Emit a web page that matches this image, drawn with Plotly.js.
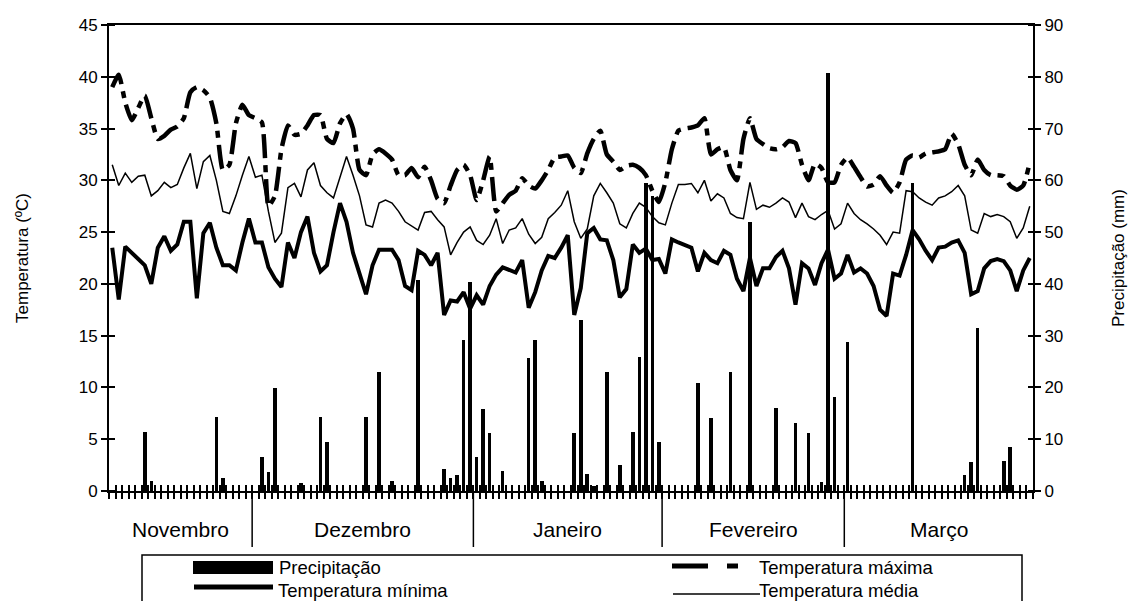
<!DOCTYPE html>
<html>
<head>
<meta charset="utf-8">
<script src="https://cdn.plot.ly/plotly-3.0.1.min.js"></script>
<style>
html,body{margin:0;padding:0;background:#fff;}
#chart{width:1131px;height:601px;}
</style>
</head>
<body>
<div id="chart"></div>
<script>
// ---- DATA ----
const monthLabels = ["Novembro","Dezembro","Janeiro","Fevereiro","Março"];
const monthDays = [22, 34, 29, 28, 29];

const tempMax = [
39.0,40.2,37.5,35.8,37.0,38.2,36.0,34.0,34.3,34.9,
35.2,36.0,38.5,39.0,38.7,38.0,35.5,31.0,31.5,35.5,
37.3,36.3,36.0,35.6,27.5,28.5,33.0,35.3,34.4,34.5,
35.3,36.3,36.3,34.0,33.6,35.5,36.4,35.0,31.0,30.5,
32.5,33.0,32.6,32.0,30.5,30.5,31.2,30.3,31.3,30.0,
28.2,27.8,29.5,31.0,31.5,30.5,28.1,30.0,32.3,27.0,
27.8,28.6,29.0,30.2,29.5,29.2,30.0,31.0,32.2,32.3,
32.4,31.2,30.7,32.6,34.0,34.8,32.5,31.8,31.0,31.4,
31.5,31.2,30.5,29.0,27.9,29.8,33.0,34.8,35.0,35.1,
35.3,36.0,32.5,33.0,33.2,31.0,30.0,34.0,36.0,34.0,
33.5,33.1,33.0,33.2,33.8,33.6,31.5,30.0,31.6,31.2,
29.8,29.8,31.5,32.2,31.3,30.3,29.4,29.6,30.4,29.5,
28.8,29.8,32.0,32.4,32.2,32.6,32.7,32.8,33.0,34.5,
33.5,31.5,30.5,32.0,31.0,30.5,30.5,30.4,29.5,29.1,
29.5,31.7];

const tempMin = [
23.5,18.5,23.6,23.0,22.5,21.8,20.0,23.5,24.6,23.2,
23.8,26.0,26.0,18.6,24.9,25.9,23.5,21.8,21.8,21.3,
24.0,26.3,24.0,24.0,21.6,20.5,19.7,24.0,22.5,25.0,
26.5,23.0,21.2,21.8,25.0,27.8,26.0,23.0,21.0,19.0,
21.8,23.3,23.3,23.3,22.3,19.8,19.4,23.2,22.8,21.8,
23.0,17.0,18.4,18.3,19.2,17.6,18.9,18.0,19.8,20.9,
21.6,21.4,21.1,22.3,17.7,19.2,21.3,22.7,22.5,23.5,
24.7,17.0,19.6,24.9,25.4,24.3,24.2,22.3,18.7,19.5,
23.8,23.0,23.4,22.3,22.4,21.0,24.3,24.0,23.8,23.5,
21.2,23.0,22.3,22.0,23.2,22.8,20.5,19.3,22.5,19.8,
21.5,21.5,22.6,23.2,21.5,18.0,22.0,21.5,19.9,22.0,
23.3,20.5,21.0,22.8,21.1,21.5,21.0,19.8,17.5,16.9,
21.0,20.8,22.8,25.2,24.3,23.2,22.3,23.5,23.6,24.0,
24.2,23.0,19.0,19.3,21.5,22.2,22.4,22.2,21.3,19.3,
21.3,22.5];

const tempMed = [
31.5,29.5,30.7,29.8,30.4,30.5,28.5,29.0,29.8,29.3,
29.6,31.2,32.6,29.2,31.8,32.4,30.0,27.0,26.8,28.5,
30.5,32.3,30.3,30.5,27.0,24.0,24.9,29.3,29.7,28.4,
31.0,31.7,29.5,28.8,28.3,30.3,32.3,30.5,28.5,25.7,
25.5,27.8,28.1,27.8,27.0,26.0,25.6,25.2,26.9,27.0,
26.2,25.5,22.8,24.0,25.0,25.5,24.2,23.8,24.7,26.3,
23.9,25.2,25.4,26.3,24.8,23.9,24.5,26.3,26.9,27.6,
29.0,26.0,24.4,25.3,28.5,29.7,28.8,27.8,25.8,25.4,
26.8,27.8,27.4,26.5,25.9,25.7,27.8,29.6,29.6,29.7,
28.8,30.0,28.0,28.7,28.3,26.8,26.4,26.3,29.8,27.2,
27.6,27.4,27.8,28.3,27.9,26.4,27.8,26.5,26.2,26.7,
27.1,25.3,25.8,27.8,26.8,26.2,25.8,25.3,24.7,23.8,
25.0,24.9,29.0,28.9,28.3,27.9,27.6,28.3,28.5,28.9,
29.5,28.5,25.2,24.9,26.8,26.5,26.7,26.5,26.0,24.4,
25.4,27.5];

const precip = [
0,0,0,0,0,11.3,2.0,0,0,0,
0,0,0,0,0,0,14.3,2.5,0,0,
0,0,0,6.6,3.7,19.9,0,0,0,1.5,
0,0,14.3,9.5,0,0,0,0,0,14.3,
0,23.0,0,1.9,0,0,0,40.7,0,0,
0,4.2,2.5,3.1,29.2,40.4,6.6,15.8,11.2,0,
3.9,0,0,0,25.7,29.2,1.9,0,0,0,
0,11.2,33.0,3.3,1.0,0,23.0,0,5.0,0,
11.4,25.9,59.5,57.0,9.5,0,0,0,0,0,
20.9,0,14.1,0,0,23.0,0,0,52.0,0,
0,0,16.0,0,0,13.1,0,11.2,0,1.7,
80.7,18.2,0,28.8,0,0,0,0,0,0,
0,0,0,59.5,0,0,0,0,0,0,
0,3.1,5.6,31.5,0,0,0,5.8,8.5,0,
0,0];

const tempTicks = [0, 5, 10, 15, 20, 25, 30, 35, 40, 45];
const precipTicks = [0, 10, 20, 30, 40, 50, 60, 70, 80, 90];

const days = tempMax.map((_, i) => i);
const nDays = days.length;

// ---- geometry helpers (layout only) ----
const W = 1131, H = 601;
const M = {l: 109, r: 98, t: 25, b: 110};
const pw = W - M.l - M.r, ph = H - M.t - M.b;
const px = x => (x - M.l) / pw;          // pixel -> paper x
const py = y => (H - M.b - y) / ph;      // pixel -> paper y

const FONT = "Liberation Sans, Arial, sans-serif";

const traces = [
  {type: 'bar', x: days, y: precip, yaxis: 'y2', width: 0.55,
   marker: {color: '#000', line: {width: 0}}, name: 'Precipitação', showlegend: false, hoverinfo: 'skip'},
  {type: 'scatter', mode: 'lines', x: days, y: tempMax, name: 'Temperatura máxima',
   line: {color: '#000', width: 4.5, dash: '24px,7px,7px,7px', shape: 'spline', smoothing: 0.5}, showlegend: false},
  {type: 'scatter', mode: 'lines', x: days, y: tempMin, name: 'Temperatura mínima',
   line: {color: '#000', width: 4}, showlegend: false},
  {type: 'scatter', mode: 'lines', x: days, y: tempMed, name: 'Temperatura média',
   line: {color: '#000', width: 1.5}, showlegend: false},
  // carriers for the crossing-tick axes
  {type: 'scatter', mode: 'lines', x: [], y: [], xaxis: 'x2', yaxis: 'y', showlegend: false, hoverinfo: 'skip'},
  {type: 'scatter', mode: 'lines', x: [], y: [], xaxis: 'x', yaxis: 'y3', showlegend: false, hoverinfo: 'skip'},
  {type: 'scatter', mode: 'lines', x: [], y: [], xaxis: 'x', yaxis: 'y4', showlegend: false, hoverinfo: 'skip'}
];

// month separators & labels
const shapes = [];
const annotations = [];
let start = -0.5;
monthDays.forEach((n, k) => {
  const end = start + n;
  annotations.push({xref: 'x', yref: 'paper', x: (start + end) / 2, y: py(529),
    text: monthLabels[k], showarrow: false, xanchor: 'center', yanchor: 'middle',
    font: {family: FONT, size: 21, color: '#000'}});
  if (k < monthDays.length - 1) {
    shapes.push({type: 'line', xref: 'x', yref: 'paper', x0: end, x1: end, y0: 0, y1: py(547),
      line: {color: '#000', width: 1.5}});
  }
  start = end;
});

// legend (drawn manually)
shapes.push({type: 'rect', xref: 'paper', yref: 'paper', x0: px(142), x1: px(1022), y0: py(555), y1: py(640),
  line: {color: '#000', width: 1.5}, fillcolor: 'rgba(0,0,0,0)'});
shapes.push({type: 'rect', xref: 'paper', yref: 'paper', x0: px(193), x1: px(273), y0: py(561), y1: py(574),
  line: {width: 0}, fillcolor: '#000'});
shapes.push({type: 'line', xref: 'paper', yref: 'paper', x0: px(194), x1: px(273), y0: py(587), y1: py(587),
  line: {color: '#000', width: 5}});
shapes.push({type: 'line', xref: 'paper', yref: 'paper', x0: px(672), x1: px(708), y0: py(566), y1: py(566),
  line: {color: '#000', width: 5}});
shapes.push({type: 'line', xref: 'paper', yref: 'paper', x0: px(727), x1: px(738), y0: py(566), y1: py(566),
  line: {color: '#000', width: 5}});
shapes.push({type: 'line', xref: 'paper', yref: 'paper', x0: px(673), x1: px(760), y0: py(594), y1: py(594),
  line: {color: '#000', width: 1.5}});
const legText = [
  ['Precipitação', 278, 567], ['Temperatura mínima', 277, 590],
  ['Temperatura máxima', 758, 567], ['Temperatura média', 758, 590]
];
legText.forEach(t => annotations.push({xref: 'paper', yref: 'paper', x: px(t[1]), y: py(t[2]),
  text: t[0], showarrow: false, xanchor: 'left', yanchor: 'middle', borderpad: 0,
  font: {family: FONT, size: 18.5, color: '#000'}}));

const tickCommon = {tickcolor: '#000', tickwidth: 2, ticklen: 6};

const layout = {
  width: W, height: H,
  margin: M,
  paper_bgcolor: '#fff', plot_bgcolor: '#fff',
  font: {family: FONT, color: '#000', size: 17},
  showlegend: false,
  bargap: 0,
  xaxis: Object.assign({range: [-0.5, nDays - 0.5], tick0: -0.5, dtick: 1, ticks: 'outside',
    showticklabels: false, showgrid: false, zeroline: false,
    showline: true, linecolor: '#000', linewidth: 2, mirror: true}, tickCommon),
  xaxis2: Object.assign({overlaying: 'x', range: [-0.5, nDays - 0.5], anchor: 'y', tick0: -0.5, dtick: 1, ticks: 'inside',
    showticklabels: false, showgrid: false, zeroline: false, showline: false}, tickCommon),
  yaxis: Object.assign({range: [0, 45], tickmode: 'array', tickvals: tempTicks, ticktext: tempTicks.map(String),
    ticks: 'outside', showgrid: false, zeroline: false,
    showline: true, linecolor: '#000', linewidth: 2,
    tickfont: {family: FONT, size: 17, color: '#000'},
    title: {text: 'Temperatura (ºC)', font: {family: FONT, size: 17, color: '#000'}, standoff: 46}}, tickCommon),
  yaxis3: {overlaying: 'y', range: [0, 45], side: 'left', anchor: 'free', position: px(M.l + 6), ticks: 'outside',
    tickmode: 'array', tickvals: tempTicks, tickcolor: '#000', tickwidth: 2, ticklen: 12,
    showticklabels: false, showgrid: false, zeroline: false, showline: false},
  yaxis2: Object.assign({overlaying: 'y', side: 'right', anchor: 'x', range: [0, 90],
    tickmode: 'array', tickvals: precipTicks, ticktext: precipTicks.map(String), ticks: 'outside',
    showgrid: false, zeroline: false, showline: true, linecolor: '#000', linewidth: 2,
    tickfont: {family: FONT, size: 17, color: '#000'},
    title: {text: 'Precipitação (mm)', font: {family: FONT, size: 17, color: '#000'}, standoff: 50}}, tickCommon),
  yaxis4: {overlaying: 'y', range: [0, 90], side: 'right', anchor: 'free', position: px(W - M.r - 6), ticks: 'outside',
    tickmode: 'array', tickvals: precipTicks, tickcolor: '#000', tickwidth: 2, ticklen: 12,
    showticklabels: false, showgrid: false, zeroline: false, showline: false},
  shapes: shapes,
  annotations: annotations
};

Plotly.newPlot('chart', traces, layout, {staticPlot: true, displayModeBar: false});
</script>
</body>
</html>
